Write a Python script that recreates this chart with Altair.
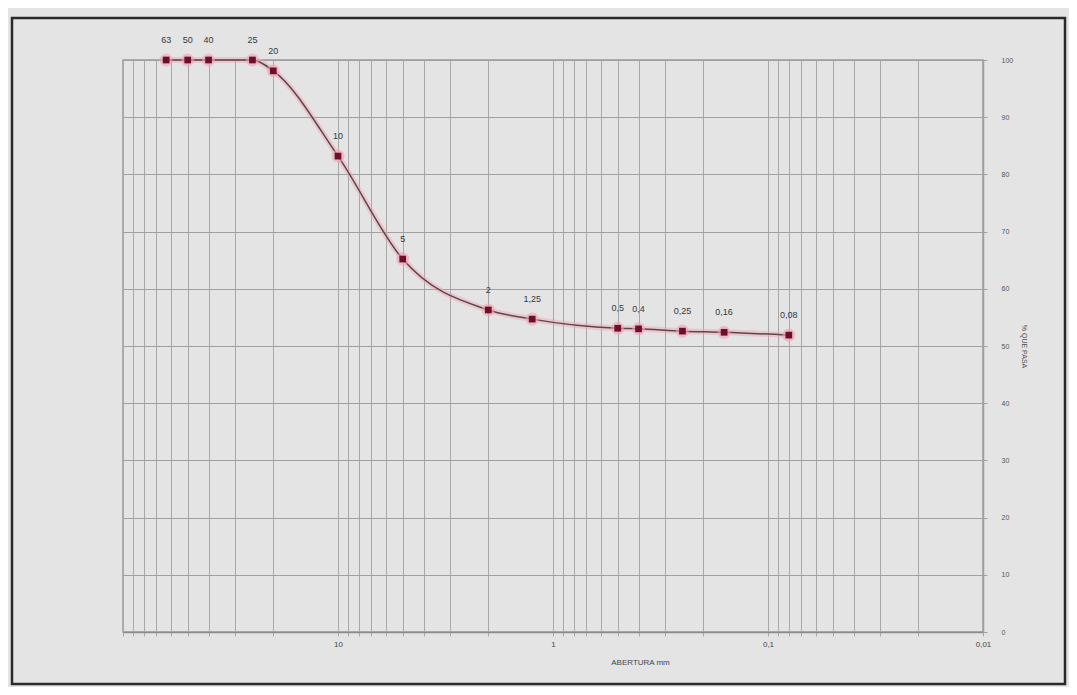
import altair as alt
import pandas as pd

# Sieve analysis data (UNE series)
sizes = [63, 50, 40, 25, 20, 10, 5, 2, 1.25, 0.5, 0.4, 0.25, 0.16, 0.08]
passing = [100, 100, 100, 100, 98.1, 83.2, 65.2, 56.3, 54.7, 53.1, 53.0, 52.6, 52.4, 51.9]
labels = ["63", "50", "40", "25", "20", "10", "5", "2", "1,25", "0,5", "0,4", "0,25", "0,16", "0,08"]
label_dx = [0, 0, 0, 0, 0, 0, 0, 0, 0, 0, 0, 0, 0, 0]

x_major = [10, 1, 0.1, 0.01]
x_major_text = ["10", "1", "0,1", "0,01"]
y_ticks = [0, 10, 20, 30, 40, 50, 60, 70, 80, 90, 100]

grid_vals = []
for d in [0.01, 0.1, 1, 10]:
    for m in range(1, 10):
        grid_vals.append(round(d * m, 6))
grid_vals.append(100)

df = pd.DataFrame({"size": sizes, "passing": passing, "label": labels})

W, H = 860, 572
xscale = alt.Scale(type="log", domain=[0.01, 100], reverse=True, nice=False)
yscale = alt.Scale(domain=[0, 100], nice=False, zero=False)

label_expr = " : ".join(
    f"datum.value == {v} ? '{t}'" for v, t in zip(x_major, x_major_text)
) + " : ''"

x_enc = alt.X(
    "size:Q",
    scale=xscale,
    axis=alt.Axis(
        values=grid_vals,
        labelExpr=label_expr,
        grid=True,
        gridColor="#a8a8a8",
        gridWidth=1,
        tickColor="#a8a8a8",
        tickSize=4,
        domainColor="#8c8c8c",
        domainWidth=1.5,
        labelFontSize=8,
        labelColor="#444444",
        labelFont="Liberation Sans",
        labelPadding=4,
        title="ABERTURA mm",
        titleFontSize=8,
        titleFontWeight="normal",
        titleColor="#444444",
        titleFont="Liberation Sans",
        titleX=517,
        titleY=26,
        labelFlush=False,
        labelOverlap=False,
    ),
)
y_enc = alt.Y(
    "passing:Q",
    scale=yscale,
    axis=alt.Axis(
        orient="right",
        values=y_ticks,
        grid=True,
        gridColor="#a0a0a0",
        gridWidth=1.2,
        tickColor="#a0a0a0",
        tickSize=4,
        domainColor="#a0a0a0",
        domainWidth=1.5,
        labelFontSize=7,
        labelColor="#555555",
        labelFont="Liberation Sans",
        labelPadding=14,
        title="% QUE PASA",
        titleAngle=90,
        titleFontSize=7,
        titleFontWeight="normal",
        titleColor="#555555",
        titleFont="Liberation Sans",
        titlePadding=8,
    ),
)

base = alt.Chart(df)

glow_line = base.mark_line(
    interpolate="monotone", color="#f2a3b5", strokeWidth=6, opacity=0.45
).encode(x=x_enc, y=y_enc)

line = base.mark_line(
    interpolate="monotone", color="#5b4747", strokeWidth=1.5
).encode(x="size:Q", y="passing:Q")

halo = base.mark_point(
    shape="circle", filled=True, size=170, color="#f3a2b6", opacity=0.6
).encode(x="size:Q", y="passing:Q")

pts = base.mark_point(
    shape="square", filled=True, size=45, color="#6c0f2a", opacity=1
).encode(x="size:Q", y="passing:Q")

text = base.mark_text(
    dy=-20, fontSize=9, color="#333a3a", font="Liberation Sans"
).encode(x="size:Q", y="passing:Q", text="label:N")

frame = alt.Chart(pd.DataFrame({"k": [0]})).mark_rect(
    filled=False, stroke="#2a2a2a", strokeWidth=2.5
).encode(
    x=alt.value(-111), x2=alt.value(942), y=alt.value(-42), y2=alt.value(624)
)

chart = alt.layer(frame, glow_line, line, halo, pts, text).properties(
    width=W,
    height=H,
    autosize=alt.AutoSizeParams(type="none"),
    padding={"left": 115, "top": 52, "right": 86, "bottom": 55},
    background="#e4e4e4",
).configure_view(
    stroke="#999999", strokeWidth=1.5, fill="#e4e4e4"
)

chart.save("out.html", embed_options={"renderer": "svg", "actions": False})
